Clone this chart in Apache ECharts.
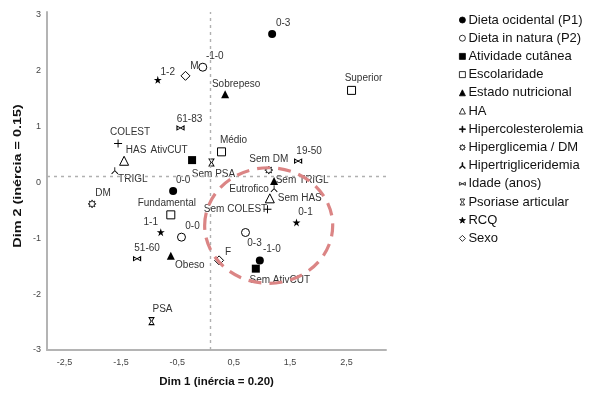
<!DOCTYPE html>
<html>
<head>
<meta charset="utf-8">
<script src="https://cdn.jsdelivr.net/npm/echarts@6/dist/echarts.min.js"></script>
<style>
html,body{margin:0;padding:0;background:#fff;}
#chart{width:591px;height:393px;}
</style>
</head>
<body>
<div id="chart"></div>
<script>
// ---- DATA (label, Dim 1, Dim 2) ----
const seriesNames = ['Dieta ocidental (P1)','Dieta in natura (P2)','Atividade cutânea','Escolaridade','Estado nutricional','HA','Hipercolesterolemia','Hiperglicemia / DM','Hipertrigliceridemia','Idade (anos)','Psoriase articular','RCQ','Sexo'];
const dietaOcidental = [['0-3',1.181,2.656],['0-0',-0.574,-0.153],['-1-0',0.963,-1.396]];
const dietaInNatura = [['-1-0',-0.048,2.062],['0-0',-0.426,-0.980],['0-3',0.709,-0.897]];
const atividadeCutanea = [['AtivCUT',-0.238,0.399],['Sem AtivCUT',0.892,-1.544]];
const escolaridade = [['Superior',2.589,1.647],['Médio',0.284,0.547],['Fundamental',-0.615,-0.581]];
const estadoNutricional = [['Sobrepeso',0.348,1.576],['Obeso',-0.615,-1.312],['Eutrofico',1.216,0.025]];
const ha = [['HAS',-1.443,0.387],['Sem HAS',1.140,-0.285]];
const hipercolesterolemia = [['COLEST',-1.550,0.695],['Sem COLEST',1.099,-0.481]];
const hiperglicemia = [['DM',-2.011,-0.385],['Sem DM',1.122,0.221]];
const hipertrigliceridemia = [['TRIGL',-1.608,0.209],['Sem TRIGL',1.216,-0.112]];
const idade = [['61-83',-0.443,0.975],['19-50',1.642,0.381],['51-60',-1.213,-1.365]];
const psoriase = [['Sem PSA',0.106,0.357],['PSA',-0.957,-2.483]];
const rcq = [['1-2',-0.846,1.836],['1-1',-0.793,-0.891],['0-1',1.613,-0.718]];
const sexo = [['M',-0.355,1.907],['F',0.241,-1.396]];
const xTickLabels = [-2.5,-1.5,-0.5,0.5,1.5,2.5];
const yTickLabels = [-3,-2,-1,0,1,2,3];
const refLineX = 0.085, refLineY = 0.11;
const highlightEllipse = {cx:1.12, cy:-0.772, rx:1.135, ry:1.034};
const xAxisName = 'Dim 1 (inércia = 0.20)';
const yAxisName = 'Dim 2 (inércia = 0.15)';

const allData = [dietaOcidental,dietaInNatura,atividadeCutanea,escolaridade,estadoNutricional,ha,hipercolesterolemia,hiperglicemia,hipertrigliceridemia,idade,psoriase,rcq,sexo];

// ---- label placement (pixel offsets of text from marker) ----
const labelOffsets = [
  {'0-3':[11,-11],'0-0':[10,-11],'-1-0':[12,-11]},
  {'-1-0':[12,-11],'0-0':[11,-11],'0-3':[9,11]},
  {'AtivCUT':[-23,-10],'Sem AtivCUT':[24,12]},
  {'Superior':[12,-12],'Médio':[12,-12],'Fundamental':[-4,-12]},
  {'Sobrepeso':[11,-10],'Obeso':[19,10],'Eutrofico':[-25,8]},
  {'HAS':[12,-11],'Sem HAS':[30,0]},
  {'COLEST':[12,-11],'Sem COLEST':[-32,0]},
  {'DM':[11,-11],'Sem DM':[0,-11]},
  {'TRIGL':[18,9],'Sem TRIGL':[28,-8]},
  {'61-83':[9,-9],'19-50':[11,-10],'51-60':[10,-10]},
  {'Sem PSA':[2,12],'PSA':[11,-12]},
  {'1-2':[10,-8],'1-1':[-10,-10],'0-1':[9,-10]},
  {'M':[9,-10],'F':[9,-8]}
];

const PLUS = 'path://M4.4,0H5.6V4.4H10V5.6H5.6V10H4.4V5.6H0V4.4H4.4Z';
const GEAR = 'path://M10,5L7.59,6.07L8.54,8.54L6.07,7.59L5,10L3.93,7.59L1.46,8.54L2.41,6.07L0,5L2.41,3.93L1.46,1.46L3.93,2.41L5,0L6.07,2.41L8.54,1.46L7.59,3.93Z';
const TRI = 'path://M4.4,0H5.6V4.7L10,9.1L9.1,10L5,5.9L0.9,10L0,9.1L4.4,4.7Z';
const BOW = 'path://M0,0L5,2.5L10,0V5L5,2.5L0,5Z';
const HOUR = 'path://M0,0H6L3.5,4L6,8H0L2.5,4Z';
const STAR = 'path://M5,0L6.117,3.463L9.755,3.455L6.807,5.587L7.939,9.045L5,6.9L2.061,9.045L3.193,5.587L0.245,3.455L3.883,3.463Z';

const symbolStyles = [
  {symbol:'circle', size:8, fill:'#000', stroke:'#000', bw:0},
  {symbol:'circle', size:8, fill:'#fff', stroke:'#000', bw:1},
  {symbol:'rect', size:8, fill:'#000', stroke:'#000', bw:0},
  {symbol:'rect', size:8, fill:'#fff', stroke:'#000', bw:1},
  {symbol:'triangle', size:8, fill:'#000', stroke:'#000', bw:0},
  {symbol:'triangle', size:9, fill:'#fff', stroke:'#000', bw:1},
  {symbol:PLUS, size:8, fill:'#000', stroke:'#000', bw:0},
  {symbol:GEAR, size:8, fill:'#fff', stroke:'#000', bw:0.8},
  {symbol:TRI, size:7, fill:'#000', stroke:'#000', bw:0},
  {symbol:BOW, size:[7,4], fill:'#fff', stroke:'#000', bw:0.9},
  {symbol:HOUR, size:[5,7], fill:'#fff', stroke:'#000', bw:0.9},
  {symbol:STAR, size:8, fill:'#000', stroke:'#000', bw:0},
  {symbol:'diamond', size:9, fill:'#fff', stroke:'#000', bw:1}
];

const FONT = '"Liberation Sans", Arial, sans-serif';

const series = seriesNames.map((name, i) => {
  const st = symbolStyles[i];
  return {
    name: name,
    type: 'scatter',
    symbol: st.symbol,
    symbolSize: st.size,
    itemStyle: {color: st.fill, borderColor: st.stroke, borderWidth: st.bw, opacity: 1},
    label: {show: true, position: 'inside', formatter: '{b}', color: '#333', fontSize: 10, fontFamily: FONT},
    emphasis: {disabled: true},
    z: 3,
    data: allData[i].map(d => ({
      name: d[0],
      value: [d[1], d[2]],
      label: {offset: labelOffsets[i][d[0]] || [0,0]}
    }))
  };
});

series.push({
  type: 'scatter',
  data: [],
  silent: true,
  z: 1,
  markLine: {
    silent: true,
    symbol: ['none','none'],
    label: {show: false},
    lineStyle: {color: '#b0b0b0', type: [3,4], width: 1.4},
    animation: false,
    data: [{xAxis: refLineX}, {yAxis: refLineY}]
  }
});

const chart = echarts.init(document.getElementById('chart'), null, {renderer: 'canvas'});
const option = {
  animation: false,
  backgroundColor: '#fff',
  grid: {left: 47, top: 12, width: 339, height: 342, containLabel: false},
  xAxis: {
    type: 'value', min: -2.81, max: 3.2,
    name: xAxisName, nameLocation: 'middle', nameGap: 26,
    nameTextStyle: {fontFamily: FONT, fontWeight: 'bold', fontSize: 11.5, color: '#111'},
    axisLine: {show: true, onZero: false, lineStyle: {color: '#b4b4b4', width: 2}},
    axisTick: {show: false},
    splitLine: {show: false},
    axisLabel: {customValues: xTickLabels, margin: 8, fontSize: 9, color: '#444', fontFamily: FONT,
      formatter: v => String(v).replace('.', ',')}
  },
  yAxis: {
    type: 'value', min: -3, max: 3.05,
    axisLine: {show: true, onZero: false, lineStyle: {color: '#b4b4b4', width: 2}},
    axisTick: {show: false},
    splitLine: {show: false},
    axisLabel: {customValues: yTickLabels, margin: 6, fontSize: 9, color: '#444', fontFamily: FONT,
      formatter: v => String(v).replace('.', ',')}
  },
  legend: {
    orient: 'vertical', left: 459, top: 13, padding: 0,
    itemWidth: 6, itemHeight: 6, itemGap: 4.2,
    selectedMode: false,
    data: seriesNames,
    itemStyle: {borderWidth: 0.8},
    textStyle: {fontFamily: FONT, fontSize: 13, color: '#111', lineHeight: 14, padding: [0,0,0,-2]}
  },
  series: series
};
chart.setOption(option);

const c = chart.convertToPixel({gridIndex: 0}, [highlightEllipse.cx, highlightEllipse.cy]);
const e = chart.convertToPixel({gridIndex: 0}, [highlightEllipse.cx + highlightEllipse.rx, highlightEllipse.cy + highlightEllipse.ry]);
chart.setOption({
  graphic: [
    {
      type: 'ellipse', id: 'hl', silent: true, z: 10,
      shape: {cx: c[0], cy: c[1], rx: e[0] - c[0], ry: c[1] - e[1]},
      style: {fill: 'none', stroke: '#db8585', lineWidth: 3.2, lineDash: [13, 8]}
    },
    {
      type: 'text', id: 'yname', silent: true, z: 10,
      x: 18, y: 176, rotation: Math.PI / 2, scaleX: 1.25,
      style: {text: yAxisName, font: 'bold 11.5px "Liberation Sans", Arial, sans-serif', fill: '#111', align: 'center', verticalAlign: 'middle'}
    }
  ]
});
</script>
</body>
</html>
